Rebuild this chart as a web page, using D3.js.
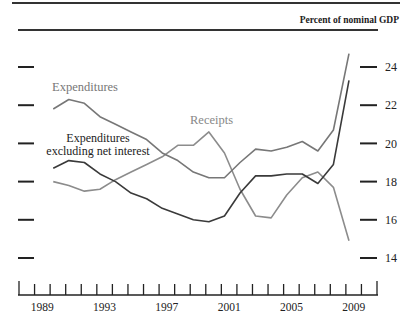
<!DOCTYPE html>
<html>
<head>
<meta charset="utf-8">
<script src="https://cdn.jsdelivr.net/npm/d3@7"></script>
<style>
  body { margin: 0; background: #fff; }
  text { font-family: "Liberation Serif", "DejaVu Serif", serif; }
</style>
</head>
<body>
<div id="chart"></div>
<script>
var years = [1990, 1991, 1992, 1993, 1994, 1995, 1996, 1997, 1998, 1999,
             2000, 2001, 2002, 2003, 2004, 2005, 2006, 2007, 2008, 2009];
var expenditures = [21.8, 22.3, 22.1, 21.4, 21.0, 20.6, 20.2, 19.5, 19.1, 18.5,
                    18.2, 18.2, 19.0, 19.7, 19.6, 19.8, 20.1, 19.6, 20.7, 24.7];
var receipts = [18.0, 17.8, 17.5, 17.6, 18.1, 18.5, 18.9, 19.3, 19.9, 19.9,
                20.6, 19.5, 17.6, 16.2, 16.1, 17.3, 18.2, 18.5, 17.7, 14.9];
var exclNetInterest = [18.7, 19.1, 19.0, 18.4, 18.0, 17.4, 17.1, 16.6, 16.3, 16.0,
                       15.9, 16.2, 17.4, 18.3, 18.3, 18.4, 18.4, 17.9, 18.9, 23.3];
var yTicks = [14, 16, 18, 20, 22, 24];
var yearLabels = [1989, 1993, 1997, 2001, 2005, 2009];

var config = { width: 400, height: 316 };

var svg = d3.select('#chart').append('svg')
    .attr('width', config.width)
    .attr('height', config.height);

var x = d3.scaleLinear().domain([1988, 2011]).range([19, 377]);
var y = d3.scaleLinear().domain([14, 24]).range([258, 67]);

// rules at top
svg.append('line')
    .attr('x1', 12).attr('x2', 400).attr('y1', 3).attr('y2', 3)
    .attr('stroke', '#333').attr('stroke-width', 2);
svg.append('line')
    .attr('x1', 18).attr('x2', 378).attr('y1', 30).attr('y2', 30)
    .attr('stroke', '#333').attr('stroke-width', 2);

svg.append('text')
    .attr('x', 399).attr('y', 23)
    .attr('text-anchor', 'end')
    .attr('font-size', '9.5px')
    .attr('font-weight', 'bold')
    .attr('fill', '#222')
    .text('Percent of nominal GDP');

// y ticks both sides
var yt = svg.append('g').selectAll('g').data(yTicks).enter().append('g');
yt.append('line')
    .attr('x1', 18).attr('x2', 34)
    .attr('y1', function(d) { return y(d); }).attr('y2', function(d) { return y(d); })
    .attr('stroke', '#222').attr('stroke-width', 2);
yt.append('line')
    .attr('x1', 360).attr('x2', 377)
    .attr('y1', function(d) { return y(d); }).attr('y2', function(d) { return y(d); })
    .attr('stroke', '#222').attr('stroke-width', 2);
yt.append('text')
    .attr('x', 385)
    .attr('y', function(d) { return y(d); })
    .attr('dy', '0.35em')
    .attr('font-size', '12px')
    .attr('fill', '#222')
    .text(function(d) { return d; });

// x axis
var axisY = 295;
svg.append('line')
    .attr('x1', 18).attr('x2', 378).attr('y1', axisY).attr('y2', axisY)
    .attr('stroke', '#222').attr('stroke-width', 1.5);
svg.append('g').selectAll('line').data(d3.range(1988, 2012)).enter().append('line')
    .attr('x1', function(d) { return x(d); })
    .attr('x2', function(d) { return x(d); })
    .attr('y1', function(d) { return (d === 1988 || d === 2011) ? 281 : 284; })
    .attr('y2', axisY)
    .attr('stroke', '#222').attr('stroke-width', 1.3);
svg.append('g').selectAll('text').data(yearLabels).enter().append('text')
    .attr('x', function(d) { return x(d + 0.5); })
    .attr('y', 311)
    .attr('text-anchor', 'middle')
    .attr('font-size', '11.5px')
    .attr('fill', '#222')
    .text(function(d) { return d; });

// series
var line = d3.line()
    .x(function(d) { return x(d[0] + 0.2); })
    .y(function(d) { return y(d[1]); });

function drawSeries(values, color) {
  svg.append('path')
      .datum(d3.zip(years, values))
      .attr('d', line)
      .attr('fill', 'none')
      .attr('stroke', color)
      .attr('stroke-width', 1.6)
      .attr('stroke-linejoin', 'round');
}
drawSeries(receipts, '#8c8c8c');
drawSeries(expenditures, '#777');
drawSeries(exclNetInterest, '#3a3a3a');

// labels
svg.append('text')
    .attr('x', 52).attr('y', 91)
    .attr('font-size', '12.5px').attr('fill', '#777')
    .text('Expenditures');
svg.append('text')
    .attr('x', 190).attr('y', 124)
    .attr('font-size', '12.5px').attr('fill', '#888')
    .text('Receipts');
svg.append('text')
    .attr('x', 98).attr('y', 142)
    .attr('text-anchor', 'middle')
    .attr('font-size', '12px').attr('fill', '#222')
    .text('Expenditures');
svg.append('text')
    .attr('x', 98).attr('y', 155)
    .attr('text-anchor', 'middle')
    .attr('font-size', '12px').attr('fill', '#222')
    .text('excluding net interest');
</script>
</body>
</html>
